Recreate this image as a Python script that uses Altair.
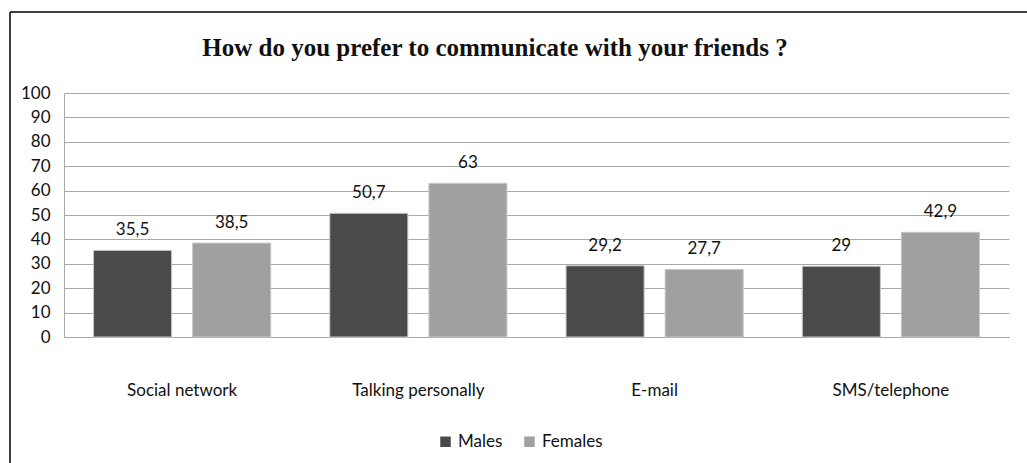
import altair as alt
import pandas as pd

categories = ["Social network", "Talking personally", "E-mail", "SMS/telephone"]
males = [35.5, 50.7, 29.2, 29]
females = [38.5, 63, 27.7, 42.9]
groups = ["Males", "Females"]
colors = ["#4a4a4a", "#a0a0a0"]
title_text = "How do you prefer to communicate with your friends ?"
y_ticks = [0, 10, 20, 30, 40, 50, 60, 70, 80, 90, 100]

rows = []
for c, m, f in zip(categories, males, females):
    for g, v in (("Males", m), ("Females", f)):
        rows.append({"cat": c, "group": g, "value": v,
                     "label": (f"{v:g}").replace(".", ",")})
df = pd.DataFrame(rows)

FONT = "Lato"
FS = 17
W, H = 945, 244

x = alt.X("cat:N", sort=categories, title=None,
          scale=alt.Scale(paddingInner=0, paddingOuter=0),
          axis=alt.Axis(labelAngle=0, labelFontSize=FS, labelFont=FONT, labelColor="#111",
                        labelPadding=45, ticks=False, domainColor="#a8a8a8", grid=False))
xo = alt.XOffset("group:N", sort=groups,
                 scale=alt.Scale(paddingInner=0.212, paddingOuter=0.298))
y = alt.Y("value:Q", title=None,
          scale=alt.Scale(domain=[0, 100], nice=False),
          axis=alt.Axis(values=y_ticks, labelFontSize=FS, labelFont=FONT,
                        labelColor="#111", labelPadding=14, ticks=False, labelOverlap=False,
                        domainColor="#a8a8a8", gridColor="#a8a8a8", gridWidth=1))

bars = alt.Chart(df).mark_bar(stroke="#c8c8c8", strokeWidth=1).encode(
    x=x, xOffset=xo, y=y,
    color=alt.Color("group:N", sort=groups,
                    scale=alt.Scale(domain=groups, range=colors),
                    legend=alt.Legend(title=None, orient="none", direction="horizontal",
                                      legendX=373, legendY=340, symbolType="square",
                                      symbolSize=110, symbolStrokeWidth=0,
                                      labelFontSize=FS, labelFont=FONT, labelColor="#111",
                                      columnPadding=18, symbolOffset=0)),
)
text = alt.Chart(df).mark_text(dy=-20, fontSize=FS, font=FONT, color="#111").encode(
    x=x, xOffset=xo, y=y, text="label:N")

title_df = pd.DataFrame({"t": [title_text]})
title = alt.Chart(title_df).mark_text(font="Liberation Serif", fontSize=25, fontWeight="bold",
                                      color="#111", align="center", baseline="middle").encode(
    x=alt.value(431), y=alt.value(-45), text="t:N")

frame_left = alt.Chart(df).mark_rule(color="#404040", strokeWidth=1.5).encode(
    x=alt.value(-54), y=alt.value(-81), y2=alt.value(380))
frame_top = alt.Chart(df).mark_rule(color="#404040", strokeWidth=1.5).encode(
    x=alt.value(-54), x2=alt.value(980), y=alt.value(-81))

chart = alt.layer(bars, text, title, frame_left, frame_top).properties(
    width=W, height=H,
    padding={"left": 64, "top": 93, "right": 18, "bottom": 126},
    autosize=alt.AutoSizeParams(type="none"),
    background="white",
).configure_view(stroke=None)

chart.save("out.html", embed_options={"renderer": "svg", "actions": False})
